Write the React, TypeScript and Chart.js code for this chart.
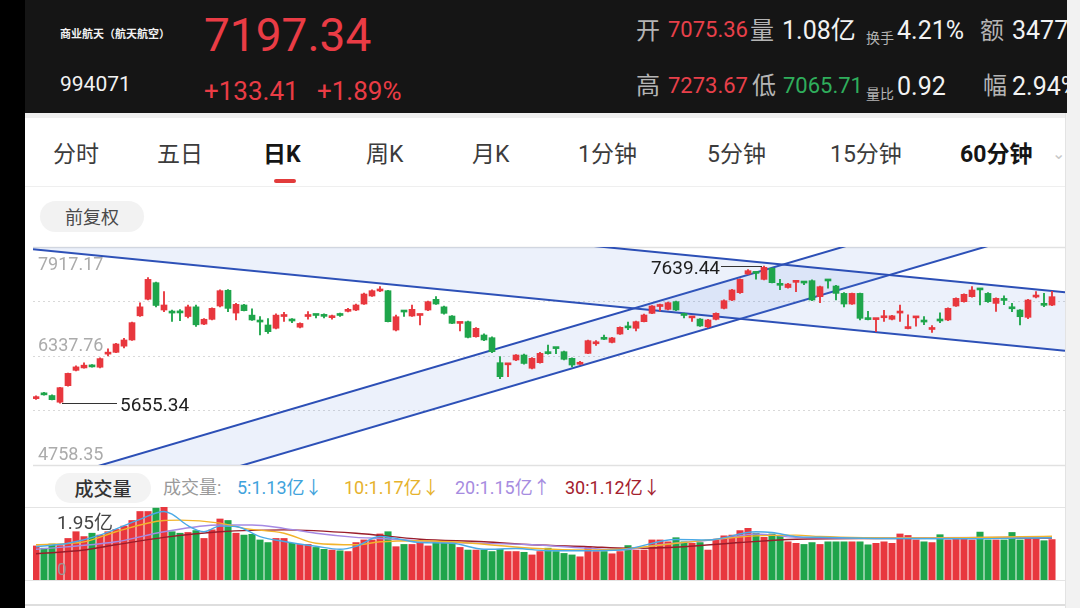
import React, { useEffect, useRef } from 'react';
import { Chart, registerables } from 'chart.js';

Chart.register(...registerables);

// ---------------- data ----------------
const candleOpen = [
  5720, 5790, 5765, 5668, 5908, 6130, 6165, 6195, 6175, 6365,
  6391, 6480, 6570, 6920, 7160, 7400, 7004, 6972, 6972, 6910,
  7050, 6800, 6869, 7062, 7290, 6960, 7077, 6930, 6842, 6787,
  6740, 6910, 6855, 6755, 6910, 6935, 6922, 6893, 6935, 6985,
  7004, 7091, 7207, 7280, 7284, 6714, 6985, 6917, 6925, 7004,
  7159, 7050, 6917, 6810, 6835, 6617, 6642, 6603, 6241, 6210,
  6280, 6352, 6160, 6241, 6385, 6455, 6400, 6304, 6218, 6376,
  6515, 6590, 6535, 6656, 6757, 6739, 6835, 6956, 7055, 7014,
  7125, 6935, 6890, 6873, 6760, 6869, 7028, 7149, 7255, 7526,
  7545, 7448, 7608, 7372, 7330, 7405, 7405, 7429, 7197, 7435,
  7352, 7245, 7091, 7245, 6875, 6865, 6892, 6870, 6960, 6735,
  6890, 6840, 6722, 6855, 6860, 7062, 7125, 7197, 7305, 7245,
  7100, 7155, 7035, 7004, 6898, 7192, 7085, 7075.36,
];
const candleHigh = [
  5760, 5810, 5775, 5885, 6092, 6195, 6240, 6215, 6310, 6440,
  6520, 6595, 6830, 7110, 7473, 7410, 7270, 7004, 7010, 7075,
  7075, 6880, 7035, 7295, 7300, 7100, 7085, 7020, 6910, 6880,
  6950, 6970, 6880, 6820, 6980, 6940, 6950, 6930, 6960, 7030,
  7090, 7250, 7295, 7342, 7290, 6930, 6990, 7077, 6945, 7135,
  7200, 7060, 6925, 6825, 6845, 6750, 6660, 6615, 6330, 6230,
  6360, 6365, 6315, 6390, 6497, 6460, 6410, 6310, 6260, 6570,
  6560, 6640, 6610, 6760, 6830, 6845, 6945, 7070, 7090, 7120,
  7135, 6960, 6905, 6880, 6870, 6965, 7150, 7305, 7455, 7590,
  7550, 7639.44, 7615, 7448, 7390, 7420, 7420, 7440, 7350, 7440,
  7360, 7255, 7250, 7250, 6985, 6880, 7000, 6928, 7077, 6935,
  6905, 6910, 6780, 6965, 7035, 7180, 7240, 7342, 7310, 7255,
  7180, 7210, 7100, 7010, 7160, 7270, 7245, 7273.67,
];
const candleLow = [
  5710, 5770, 5700, 5655.34, 5900, 6120, 6160, 6175, 6165, 6340,
  6385, 6455, 6565, 6910, 7150, 7050, 6980, 6840, 6850, 6890,
  6765, 6790, 6860, 7050, 6980, 6860, 6990, 6855, 6642, 6665,
  6730, 6840, 6820, 6745, 6870, 6890, 6890, 6870, 6910, 6975,
  6995, 7085, 7200, 7270, 6830, 6700, 6910, 6910, 6787, 6995,
  7085, 6945, 6805, 6700, 6600, 6610, 6560, 6385, 6010, 6038,
  6270, 6220, 6150, 6235, 6365, 6370, 6280, 6180, 6215, 6370,
  6490, 6575, 6528, 6650, 6720, 6700, 6830, 6950, 6990, 7005,
  6995, 6890, 6840, 6765, 6750, 6860, 7020, 7140, 7245, 7520,
  7450, 7440, 7395, 7300, 7320, 7270, 7370, 7140, 7110, 7320,
  7150, 7050, 7085, 6860, 6860, 6690, 6840, 6860, 6840, 6730,
  6770, 6790, 6680, 6820, 6850, 7055, 7118, 7190, 7077, 7115,
  6985, 7080, 6980, 6787, 6880, 7180, 7052, 7065.71,
];
const candleClose = [
  5745, 5775, 5705, 5879, 6086, 6180, 6205, 6180, 6300, 6385,
  6512, 6570, 6821, 7050, 7448, 7070, 7077, 6960, 6962, 7050,
  6790, 6870, 7028, 7284, 7028, 7086, 6995, 6860, 6830, 6690,
  6930, 6925, 6845, 6810, 6922, 6925, 6912, 6905, 6925, 7010,
  7077, 7236, 7284, 7292, 6835, 6907, 6975, 7014, 6940, 7125,
  7091, 6956, 6811, 6822, 6608, 6739, 6570, 6400, 6038, 6225,
  6352, 6230, 6304, 6376, 6372, 6445, 6290, 6207, 6228, 6560,
  6528, 6580, 6600, 6753, 6745, 6835, 6932, 7062, 7066, 7110,
  7004, 6925, 6900, 6773, 6860, 6956, 7139, 7294, 7448, 7574,
  7535, 7622, 7400, 7362, 7380, 7415, 7395, 7149, 7342, 7425,
  7245, 7091, 7245, 6884, 6865, 6875, 6904, 6920, 6972, 6745,
  6902, 6830, 6732, 6845, 7028, 7173, 7231, 7294, 7295, 7125,
  7173, 7143, 7022, 6907, 7149, 7202, 7072, 7197.34,
];
// 成交量 (亿)
const volumes = [
  0.91, 0.85, 0.96, 0.92, 1.11, 1.29, 1.16, 1.25, 1.2, 1.29,
  1.35, 1.44, 1.59, 1.83, 1.83, 1.92, 1.95, 1.29, 1.25, 1.27,
  1.32, 1.11, 1.34, 1.63, 1.59, 1.25, 1.2, 1.22, 1.07, 1.0,
  1.11, 1.11, 0.98, 0.95, 0.95, 0.87, 0.82, 0.8, 0.78, 0.76,
  1.0, 1.07, 1.07, 1.23, 1.29, 0.89, 0.95, 0.95, 1.0, 0.91,
  1.0, 1.0, 0.98, 0.87, 0.8, 0.8, 0.8, 0.76, 0.82, 0.76,
  0.76, 0.74, 0.67, 0.76, 0.85, 0.76, 0.71, 0.67, 0.62, 0.89,
  0.76, 0.76, 0.7, 0.76, 0.92, 0.8, 0.8, 1.07, 1.07, 1.02,
  1.13, 1.02, 0.98, 1.0, 0.8, 1.09, 1.18, 1.2, 1.32, 1.38,
  1.25, 1.14, 1.23, 1.18, 1.02, 0.98, 0.95, 1.0, 0.95, 1.02,
  1.02, 1.02, 1.02, 1.02, 0.94, 0.98, 1.02, 0.98, 1.23, 1.19,
  1.07, 1.02, 1.0, 1.21, 1.07, 1.13, 1.09, 1.07, 1.28, 1.07,
  1.07, 1.07, 1.27, 1.07, 1.09, 1.09, 1.05, 1.08,
];
// moving-average lines: [bar index, 亿]
const ma5Points = [[0,0.89],[4,0.98],[8,1.2],[13,1.62],[16,1.83],[17,1.76],[19,1.45],[21,1.29],[23,1.44],[25,1.43],[28,1.16],[31,1.03],[35,0.9],[38,0.82],[40,0.9],[43,1.16],[45,1.11],[48,1.0],[52,0.98],[56,0.82],[60,0.84],[64,0.78],[69,0.78],[73,0.8],[80,1.08],[84,1.07],[90,1.29],[92,1.27],[95,1.16],[98,1.14],[105,1.11],[115,1.1],[127,1.13]];
const ma10Points = [[0,0.94],[6,1.02],[10,1.29],[16,1.59],[18,1.6],[23,1.52],[26,1.38],[31,1.25],[35,0.98],[40,0.94],[43,1.02],[48,1.05],[52,1.02],[62,0.85],[69,0.8],[73,0.82],[80,0.98],[90,1.18],[95,1.2],[98,1.16],[110,1.12],[127,1.17]];
const ma20Points = [[0,0.82],[10,1.02],[16,1.29],[23,1.47],[27,1.47],[31,1.38],[35,1.25],[40,1.14],[43,1.11],[52,1.0],[62,0.94],[69,0.85],[73,0.8],[78,0.94],[86,1.11],[90,1.23],[95,1.14],[105,1.12],[127,1.15]];
const ma30Points = [[0,0.7],[6,0.8],[10,0.94],[16,1.14],[23,1.29],[31,1.34],[40,1.25],[48,1.09],[56,1.02],[62,0.94],[69,0.89],[74,0.85],[81,0.89],[88,1.0],[95,1.09],[105,1.11],[127,1.12]];

// drawn trend channels: [[bar index, price], [bar index, price]]
const channelDownUpper = [[-0.375, 8730], [128.625, 7261]];
const channelDownLower = [[-0.375, 7884], [128.625, 6415]];
const channelUpUpper = [[-0.375, 4466], [128.625, 8865]];
const channelUpLower = [[-0.375, 3861], [128.625, 8260]];

const priceGridValues = [4758.35, 5548.06, 6337.76, 7127.47, 7917.17];
const priceAxisLabels = ['4758.35', '', '6337.76', '', '7917.17'];
const highMark = { index: 91, value: 7639.44, label: '7639.44' };
const lowMark = { index: 3, value: 5655.34, label: '5655.34' };
const VOL_MAX = 1.95;
const X_MIN = -0.375;
const X_MAX = 128.625;

const RED = '#e8373e';
const GREEN = '#1fa54b';
const LINE_BLUE = '#2c4fb6';
const FILL_BLUE = 'rgba(80,130,222,0.11)';
const NUM_FONT = "Roboto, 'Noto Sans CJK SC', sans-serif";
const CJK_FONT = "'Noto Sans CJK SC', 'Noto Sans', sans-serif";

const priceOverlay = {
  id: 'priceOverlay',
  beforeDatasetsDraw(chart: any) {
    const { ctx, chartArea, scales } = chart;
    const y = scales.y;
    ctx.save();
    priceGridValues.forEach((v, k) => {
      const py = Math.round(y.getPixelForValue(v)) + 0.5;
      const edge = k === 0 || k === priceGridValues.length - 1;
      ctx.strokeStyle = edge ? '#e1e1e1' : '#d9d9d9';
      ctx.lineWidth = edge ? 1.5 : 1;
      ctx.setLineDash(edge ? [] : [2, 3]);
      ctx.beginPath();
      ctx.moveTo(chartArea.left, py);
      ctx.lineTo(chartArea.right, py);
      ctx.stroke();
    });
    ctx.restore();
  },
  afterDatasetsDraw(chart: any) {
    const { ctx, chartArea, scales } = chart;
    const x = scales.x;
    const y = scales.y;
    ctx.save();
    ctx.font = `18px ${NUM_FONT}`;
    ctx.fillStyle = '#ababab';
    ctx.textAlign = 'left';
    priceGridValues.forEach((v, k) => {
      const t = priceAxisLabels[k];
      if (!t) return;
      const py = y.getPixelForValue(v);
      if (k === priceGridValues.length - 1) {
        ctx.textBaseline = 'top';
        ctx.fillText(t, chartArea.left + 5, py + 9);
      } else {
        ctx.textBaseline = 'alphabetic';
        ctx.fillText(t, chartArea.left + 5, py - 5);
      }
    });
    // high marker
    ctx.strokeStyle = '#333';
    ctx.lineWidth = 1;
    ctx.fillStyle = '#1e1e1e';
    ctx.font = `19px ${NUM_FONT}`;
    const hx = x.getPixelForValue(highMark.index);
    const hy = Math.round(y.getPixelForValue(highMark.value)) + 0.5;
    ctx.beginPath();
    ctx.moveTo(hx - 2, hy);
    ctx.lineTo(hx - 43, hy);
    ctx.stroke();
    ctx.textAlign = 'right';
    ctx.textBaseline = 'middle';
    ctx.fillText(highMark.label, hx - 44, hy + 3);
    // low marker
    const lx = x.getPixelForValue(lowMark.index);
    const ly = Math.round(y.getPixelForValue(lowMark.value)) + 0.5;
    ctx.beginPath();
    ctx.moveTo(lx + 2, ly);
    ctx.lineTo(lx + 57, ly);
    ctx.stroke();
    ctx.textAlign = 'left';
    ctx.fillText(lowMark.label, lx + 60, ly + 3);
    ctx.restore();
  },
};

const volumeFrame = {
  id: 'volumeFrame',
  beforeDatasetsDraw(chart: any) {
    const { ctx, chartArea, scales } = chart;
    const y = scales.y;
    ctx.save();
    ctx.strokeStyle = '#e4e4e4';
    ctx.lineWidth = 1;
    [VOL_MAX, 0].forEach((v) => {
      const py = Math.round(y.getPixelForValue(v)) + 0.5;
      ctx.beginPath();
      ctx.moveTo(chartArea.left - 8, py);
      ctx.lineTo(chartArea.right, py);
      ctx.stroke();
    });
    ctx.restore();
  },
};

function channelDataset(pts: number[][], fill: any) {
  return {
    type: 'line' as const,
    data: pts.map(([x, y]) => ({ x, y })),
    borderColor: LINE_BLUE,
    borderWidth: 2,
    pointRadius: 0,
    backgroundColor: FILL_BLUE,
    fill,
    order: 2,
  };
}

function maDataset(pts: number[][], color: string) {
  return {
    type: 'line' as const,
    data: pts.map(([x, y]) => ({ x, y })),
    borderColor: color,
    borderWidth: 1.4,
    pointRadius: 0,
    fill: false,
    cubicInterpolationMode: 'monotone' as const,
    order: -1,
  };
}

const Txt = ({ l, t, s, c, w, f, children }: any) => (
  <div
    style={{
      position: 'absolute',
      left: l,
      top: t,
      fontSize: s,
      color: c,
      fontWeight: w || 400,
      fontFamily: f || NUM_FONT,
      lineHeight: 1,
      whiteSpace: 'nowrap',
    }}
  >
    {children}
  </div>
);

export default function App() {
  const priceRef = useRef<HTMLCanvasElement>(null);
  const volRef = useRef<HTMLCanvasElement>(null);

  useEffect(() => {
    document.body.style.margin = '0';
    const idx = candleClose.map((_, i) => i);
    const colors = idx.map((i) => (candleClose[i] >= candleOpen[i] ? RED : GREEN));

    const priceChart = new Chart(priceRef.current as HTMLCanvasElement, {
      type: 'bar',
      data: {
        datasets: [
          {
            type: 'bar',
            data: idx.map((i) => ({ x: i, y: [candleLow[i], candleHigh[i]] })) as any,
            backgroundColor: colors,
            barThickness: 1.2,
            grouped: false,
            order: 0,
          },
          {
            type: 'bar',
            data: idx.map((i) => ({
              x: i,
              y: [Math.min(candleOpen[i], candleClose[i]), Math.max(candleOpen[i], candleClose[i])],
            })) as any,
            backgroundColor: colors,
            barThickness: 6,
            minBarLength: 2,
            grouped: false,
            order: 0,
          },
          channelDataset(channelDownUpper, '+1') as any,
          channelDataset(channelDownLower, false) as any,
          channelDataset(channelUpUpper, '+1') as any,
          channelDataset(channelUpLower, false) as any,
        ],
      },
      options: {
        animation: false,
        responsive: false,
        devicePixelRatio: 1,
        layout: { padding: { left: 8, top: 7, right: 0, bottom: 7 } },
        plugins: { legend: { display: false }, tooltip: { enabled: false } },
        scales: {
          x: { type: 'linear', min: X_MIN, max: X_MAX, offset: false, display: false },
          y: { type: 'linear', min: priceGridValues[0], max: priceGridValues[4], display: false },
        },
      },
      plugins: [priceOverlay],
    });

    const volChart = new Chart(volRef.current as HTMLCanvasElement, {
      type: 'bar',
      data: {
        datasets: [
          maDataset(ma5Points, '#4aa9e6') as any,
          maDataset(ma10Points, '#f2b42c') as any,
          maDataset(ma20Points, '#a58ae4') as any,
          maDataset(ma30Points, '#9a1d2b') as any,
          {
            type: 'bar',
            data: idx.map((i) => ({ x: i, y: volumes[i] })) as any,
            backgroundColor: colors,
            barThickness: 6.4,
            grouped: false,
            order: 1,
          },
        ],
      },
      options: {
        animation: false,
        responsive: false,
        devicePixelRatio: 1,
        layout: { padding: { left: 8, top: 7, right: 0, bottom: 20 } },
        plugins: { legend: { display: false }, tooltip: { enabled: false } },
        scales: {
          x: { type: 'linear', min: X_MIN, max: X_MAX, offset: false, display: false },
          y: { type: 'linear', min: 0, max: VOL_MAX, display: false },
        },
      },
      plugins: [volumeFrame],
    });

    return () => {
      priceChart.destroy();
      volChart.destroy();
    };
  }, []);

  const tabs = [
    { t: '分时', l: 53 },
    { t: '五日', l: 157 },
    { t: '日K', l: 263, b: true },
    { t: '周K', l: 366 },
    { t: '月K', l: 472 },
    { t: '1分钟', l: 578 },
    { t: '5分钟', l: 707 },
    { t: '15分钟', l: 830 },
    { t: '60分钟', l: 960, b: true },
  ];

  return (
    <div
      style={{
        position: 'fixed',
        left: 0,
        top: 0,
        width: 1080,
        height: 608,
        overflow: 'hidden',
        background: '#ffffff',
      }}
    >
      {/* left black strip */}
      <div style={{ position: 'absolute', left: 0, top: 0, width: 25, height: 608, background: '#000' }} />
      {/* right gray strip */}
      <div style={{ position: 'absolute', left: 1065, top: 0, width: 15, height: 608, background: '#f2f2f2', borderLeft: '1px solid #e3e3e3' }} />
      {/* header */}
      <div style={{ position: 'absolute', left: 25, top: 0, width: 1042, height: 113, background: '#151515', overflow: 'hidden' }}>
        <div style={{ position: 'absolute', left: -25, top: 0, width: 1080, height: 113 }}>
          <Txt l={60} t={28} s={11} c="#f2f2f2" w={700} f={CJK_FONT}>商业航天（航天航空）</Txt>
          <Txt l={60} t={74} s={21} c="#f2f2f2">994071</Txt>
          <Txt l={204} t={12} s={46} c="#ea3c45">7197.34</Txt>
          <Txt l={204} t={78} s={26} c="#ea3c45">+133.41</Txt>
          <Txt l={317} t={78} s={26} c="#ea3c45">+1.89%</Txt>

          <Txt l={636} t={17} s={24} c="#b4b4b4" f={CJK_FONT}>开</Txt>
          <Txt l={668} t={19} s={22} c="#e8404a">7075.36</Txt>
          <Txt l={750} t={17} s={24} c="#b4b4b4" f={CJK_FONT}>量</Txt>
          <Txt l={782} t={18} s={25} c="#f2f2f2">1.08亿</Txt>
          <Txt l={866} t={30} s={14} c="#b4b4b4" f={CJK_FONT}>换手</Txt>
          <Txt l={897} t={18} s={25} c="#f2f2f2">4.21%</Txt>
          <Txt l={980} t={17} s={24} c="#b4b4b4" f={CJK_FONT}>额</Txt>
          <Txt l={1012} t={18} s={25} c="#f2f2f2">3477</Txt>

          <Txt l={636} t={72} s={24} c="#b4b4b4" f={CJK_FONT}>高</Txt>
          <Txt l={668} t={75} s={22} c="#e8404a">7273.67</Txt>
          <Txt l={752} t={72} s={24} c="#b4b4b4" f={CJK_FONT}>低</Txt>
          <Txt l={783} t={75} s={22} c="#2fae5c">7065.71</Txt>
          <Txt l={866} t={86} s={14} c="#b4b4b4" f={CJK_FONT}>量比</Txt>
          <Txt l={897} t={74} s={25} c="#f2f2f2">0.92</Txt>
          <Txt l={983} t={72} s={24} c="#b4b4b4" f={CJK_FONT}>幅</Txt>
          <Txt l={1012} t={74} s={25} c="#f2f2f2">2.94%</Txt>
        </div>
      </div>
      <div style={{ position: 'absolute', left: 25, top: 113, width: 1040, height: 5, background: '#efefef' }} />

      {/* tabs */}
      {tabs.map((tb) => (
        <Txt key={tb.t} l={tb.l} t={143} s={23} c={tb.b ? '#151515' : '#3c3c3c'} w={tb.b ? 700 : 400}>
          {tb.t}
        </Txt>
      ))}
      <Txt l={1052} t={146} s={16} c="#c8c8c8">⌄</Txt>
      <div style={{ position: 'absolute', left: 274, top: 179, width: 22, height: 4, borderRadius: 2, background: '#e23b3b' }} />
      <div style={{ position: 'absolute', left: 25, top: 186, width: 1040, height: 1, background: '#efefef' }} />

      {/* 前复权 */}
      <div
        style={{
          position: 'absolute',
          left: 40,
          top: 201,
          width: 104,
          height: 31,
          borderRadius: 16,
          background: '#f2f2f2',
          color: '#4a4a4a',
          fontFamily: CJK_FONT,
          fontSize: 18,
          lineHeight: '31px',
          textAlign: 'center',
        }}
      >
        前复权
      </div>

      {/* price chart */}
      <canvas
        ref={priceRef}
        width={1040}
        height={232}
        style={{ position: 'absolute', left: 25, top: 240, width: 1040, height: 232 }}
      />

      {/* volume header */}
      <div
        style={{
          position: 'absolute',
          left: 55,
          top: 473,
          width: 96,
          height: 30,
          borderRadius: 15,
          background: '#f3f3f3',
          color: '#333',
          fontFamily: CJK_FONT,
          fontSize: 19,
          fontWeight: 500,
          lineHeight: '30px',
          textAlign: 'center',
        }}
      >
        成交量
      </div>
      <Txt l={163} t={479} s={18} c="#9a9a9a">成交量:</Txt>
      <Txt l={237} t={479} s={18} c="#3fa3dc">5:1.13亿↓</Txt>
      <Txt l={344} t={479} s={18} c="#e6b22c">10:1.17亿↓</Txt>
      <Txt l={455} t={479} s={18} c="#a68ce0">20:1.15亿↑</Txt>
      <Txt l={565} t={479} s={18} c="#a3202e">30:1.12亿↓</Txt>

      {/* volume chart */}
      <canvas
        ref={volRef}
        width={1040}
        height={100}
        style={{ position: 'absolute', left: 25, top: 500, width: 1040, height: 100 }}
      />
      <Txt l={57} t={513} s={19} c="#444">1.95亿</Txt>
      <Txt l={57} t={561} s={17} c="#9a9a9a">0</Txt>
      <div style={{ position: 'absolute', left: 25, top: 604, width: 1040, height: 2, background: '#dedede' }} />
    </div>
  );
}
